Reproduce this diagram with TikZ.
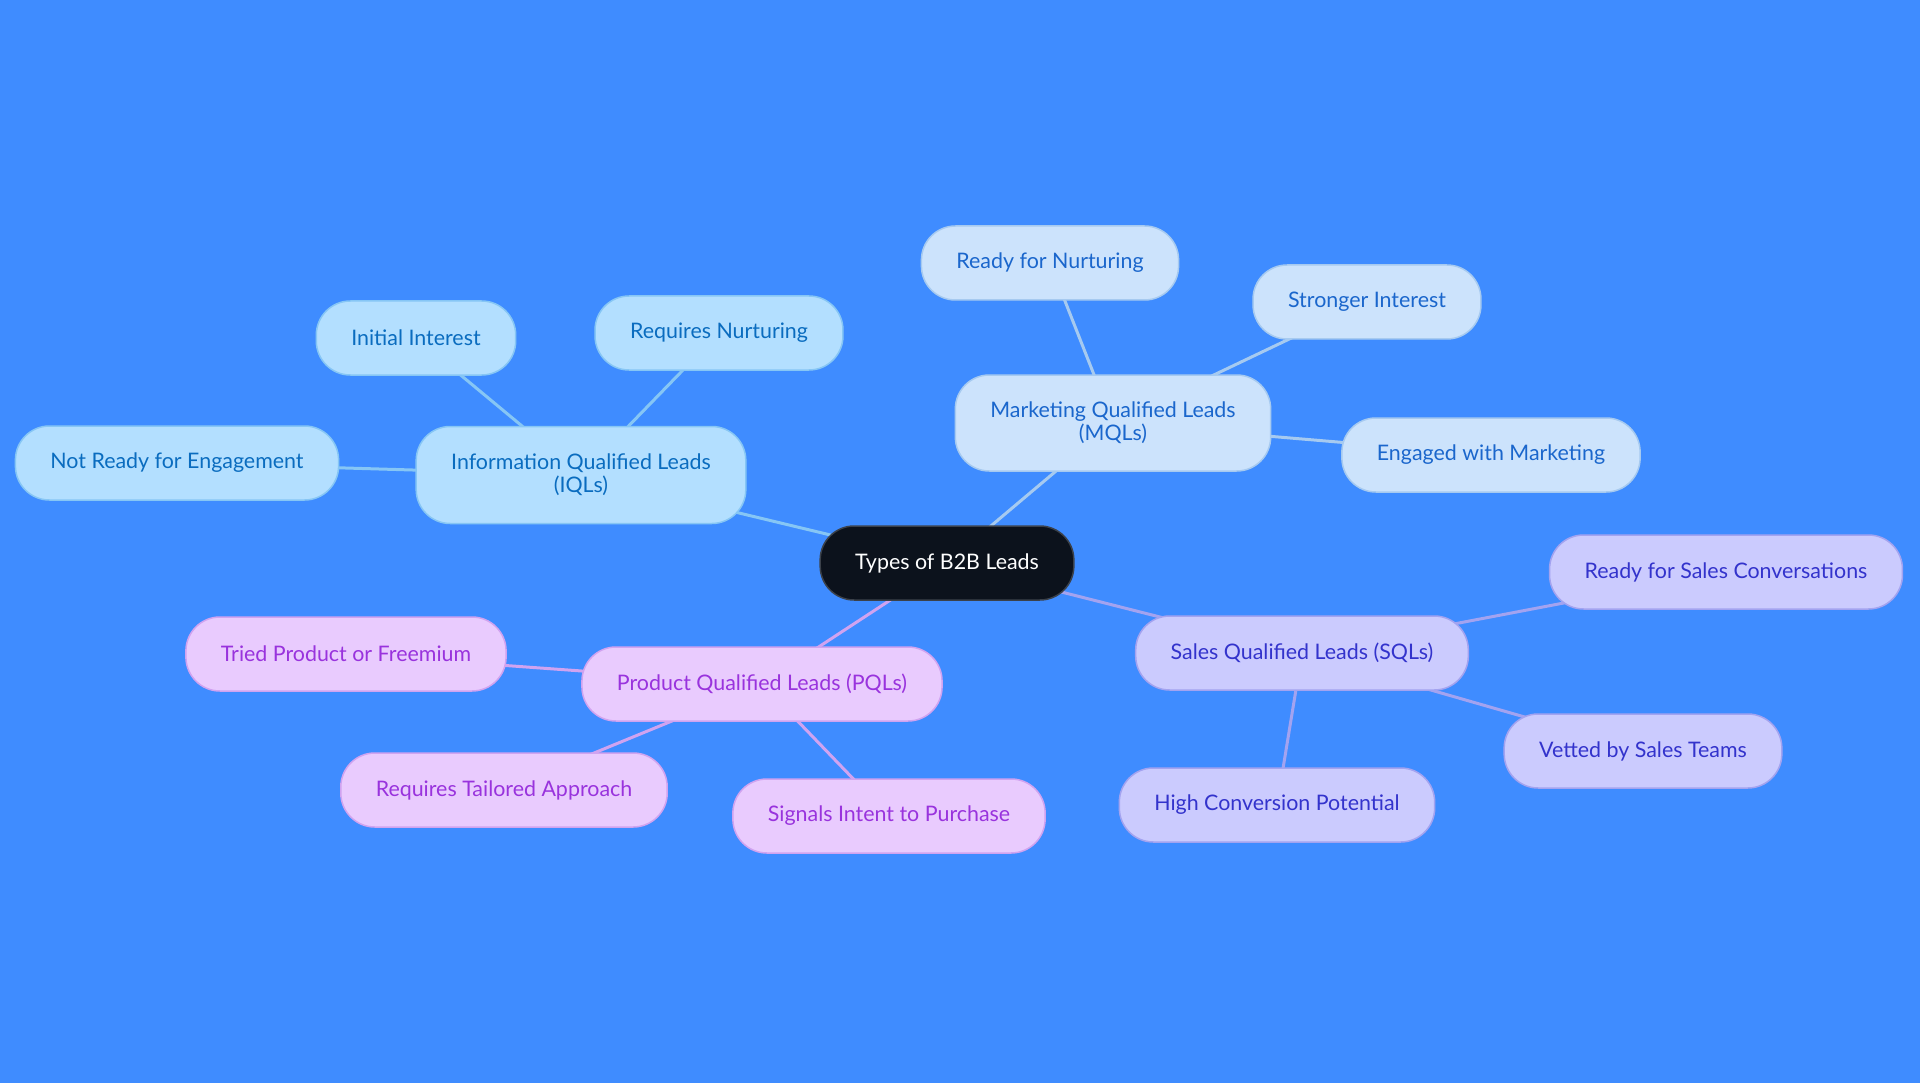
\documentclass[tikz,border=0pt]{standalone}
\usepackage{fontspec}
\setmainfont{Lato}
\usetikzlibrary{backgrounds}

\definecolor{bgblue}{HTML}{3F8CFF}
\definecolor{rootfill}{HTML}{0C121C}
\definecolor{rootline}{HTML}{3B414A}
\definecolor{iqlfill}{HTML}{B3DFFF}
\definecolor{iqlline}{HTML}{86C6F5}
\definecolor{iqltext}{HTML}{0A6CBF}
\definecolor{mqlfill}{HTML}{CCE3FC}
\definecolor{mqlline}{HTML}{A6CAF0}
\definecolor{mqltext}{HTML}{1A66CC}
\definecolor{sqlfill}{HTML}{CBCBFE}
\definecolor{sqlline}{HTML}{A3A3F0}
\definecolor{sqltext}{HTML}{3333CC}
\definecolor{pqlfill}{HTML}{E9CBFE}
\definecolor{pqlline}{HTML}{D0A3F0}
\definecolor{pqltext}{HTML}{9933DD}

\tikzset{
  leadbox/.style={rectangle, rounded corners=34pt, draw, line width=1.5pt,
    inner xsep=35pt, minimum height=74pt, align=center,
    font=\fontsize{21.4pt}{23pt}\selectfont},
  rootbox/.style={leadbox, fill=rootfill, draw=rootline, text=white},
  iqlbox/.style={leadbox, fill=iqlfill, draw=iqlline, text=iqltext},
  mqlbox/.style={leadbox, fill=mqlfill, draw=mqlline, text=mqltext},
  sqlbox/.style={leadbox, fill=sqlfill, draw=sqlline, text=sqltext},
  pqlbox/.style={leadbox, fill=pqlfill, draw=pqlline, text=pqltext},
  iqledge/.style={draw=iqlline, line width=3pt},
  mqledge/.style={draw=mqlline, line width=3pt},
  sqledge/.style={draw=sqlline, line width=3pt},
  pqledge/.style={draw=pqlline, line width=3pt}
}

\begin{document}
\begin{tikzpicture}[x=1pt, y=-1pt]
  \useasboundingbox (0,0) rectangle (1920,1083);

  \node[rootbox] (root) at (947,563) {Types of B2B Leads};

  \node[iqlbox, minimum height=97pt] (iql) at (581,475) {Information Qualified Leads\\(IQLs)};
  \node[iqlbox] (iql1) at (177,463) {Not Ready for Engagement};
  \node[iqlbox] (iql2) at (416,338) {Initial Interest};
  \node[iqlbox] (iql3) at (719,333) {Requires Nurturing};

  \node[mqlbox, minimum height=96pt] (mql) at (1113,423) {Marketing Qualified Leads\\(MQLs)};
  \node[mqlbox] (mql1) at (1050,263) {Ready for Nurturing};
  \node[mqlbox] (mql2) at (1367,302) {Stronger Interest};
  \node[mqlbox] (mql3) at (1491,455) {Engaged with Marketing};

  \node[sqlbox] (sql) at (1302,653) {Sales Qualified Leads (SQLs)};
  \node[sqlbox] (sql1) at (1726,572) {Ready for Sales Conversations};
  \node[sqlbox] (sql2) at (1643,751) {Vetted by Sales Teams};
  \node[sqlbox] (sql3) at (1277,805) {High Conversion Potential};

  \node[pqlbox] (pql) at (762,684) {Product Qualified Leads (PQLs)};
  \node[pqlbox] (pql1) at (346,654) {Tried Product or Freemium};
  \node[pqlbox] (pql2) at (504,790) {Requires Tailored Approach};
  \node[pqlbox] (pql3) at (889,816) {Signals Intent to Purchase};

  \begin{scope}[on background layer]
    \fill[bgblue] (0,0) rectangle (1920,1083);
    \draw[iqledge] (root.center) -- (iql.center);
    \draw[iqledge] (iql.center) -- (iql1.center);
    \draw[iqledge] (iql.center) -- (iql2.center);
    \draw[iqledge] (iql.center) -- (iql3.center);
    \draw[mqledge] (root.center) -- (mql.center);
    \draw[mqledge] (mql.center) -- (mql1.center);
    \draw[mqledge] (mql.center) -- (mql2.center);
    \draw[mqledge] (mql.center) -- (mql3.center);
    \draw[sqledge] (root.center) -- (sql.center);
    \draw[sqledge] (sql.center) -- (sql1.center);
    \draw[sqledge] (sql.center) -- (sql2.center);
    \draw[sqledge] (sql.center) -- (sql3.center);
    \draw[pqledge] (root.center) -- (pql.center);
    \draw[pqledge] (pql.center) -- (pql1.center);
    \draw[pqledge] (pql.center) -- (pql2.center);
    \draw[pqledge] (pql.center) -- (pql3.center);
  \end{scope}
\end{tikzpicture}
\end{document}
